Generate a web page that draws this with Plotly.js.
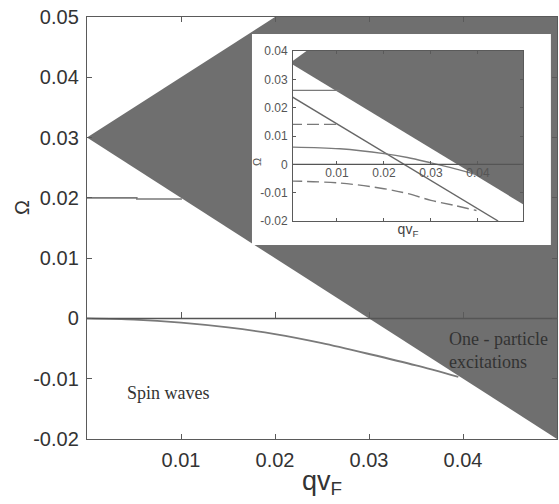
<!DOCTYPE html>
<html><head><meta charset="utf-8">
<script src="https://cdn.plot.ly/plotly-3.0.1.min.js"></script>
<style>html,body{margin:0;padding:0;background:#fff}</style>
</head><body><div id="chart" style="width:559px;height:504px"></div>
<script>
// ---- main panel data ----
const bandQ = [0, 0.05, 0.05, 0.02, 0];
const bandW = [0.03, -0.02, 0.05, 0.05, 0.03];
const levelQ = [0, 0.0053, 0.0053, 0.0101];
const levelW = [0.02, 0.02, 0.0198, 0.0198];
const zeroQ = [0, 0.05];
const zeroW = [0, 0];
const spinQ = [0, 0.005, 0.01, 0.015, 0.02, 0.025, 0.03, 0.035, 0.0395];
const spinW = [0, -0.0002, -0.0007, -0.0015, -0.0026, -0.0041, -0.0059, -0.0078, -0.0097];
const mainXTicks = [0.01, 0.02, 0.03, 0.04];
const mainXLabels = ['0.01', '0.02', '0.03', '0.04'];
const mainYTicks = [-0.02, -0.01, 0, 0.01, 0.02, 0.03, 0.04, 0.05];
const mainYLabels = ['-0.02', '-0.01', '0', '0.01', '0.02', '0.03', '0.04', '0.05'];
const labelSpin = 'Spin waves';
const labelOne = 'One - particle<br>excitations';
const yTitle = 'Ω';

// ---- inset data ----
const insBandQ = [0, 0.0035, 0.05, 0.05, 0];
const insBandW = [0.0358, 0.04, 0.04, -0.0145, 0.0358];
const insLevelQ = [0, 0.0106];
const insLevelW = [0.0261, 0.0261];
const insDashLevelQ = [0, 0.0106];
const insDashLevelW = [0.0141, 0.0141];
const insDiagQ = [0, 0.0443];
const insDiagW = [0.0243, -0.02];
const insSolidQ = [0, 0.0106, 0.02, 0.025, 0.03, 0.035, 0.0393];
const insSolidW = [0.0061, 0.0055, 0.0038, 0.0024, 0.0005, -0.0015, -0.0034];
const insDashQ = [0, 0.0106, 0.02, 0.025, 0.03, 0.035, 0.0397];
const insDashW = [-0.0059, -0.0066, -0.0086, -0.0103, -0.0127, -0.0145, -0.0163];
const insZeroQ = [0, 0.05];
const insZeroW = [0, 0];
const insXTicks = [0.01, 0.02, 0.03, 0.04];
const insXLabels = ['0.01', '0.02', '0.03', '0.04'];
const insYTicks = [-0.02, -0.01, 0, 0.01, 0.02, 0.03, 0.04];
const insYLabels = ['-0.02', '-0.01', '0', '0.01', '0.02', '0.03', '0.04'];

const dark = '#6f6f6f';
const lineGray = '#7a7a7a';
const axisGray = '#5a5a5a';
const sans = 'Liberation Sans, Arial, sans-serif';
const serif = 'Liberation Serif, Times New Roman, serif';

const mainYRange = [-0.02, 0.05];
const insYRange = [-0.02, 0.04];
const insYDomain = [0.5166, 0.9194];
const zeroPos = (0 - mainYRange[0]) / (mainYRange[1] - mainYRange[0]);
const insZeroPos = insYDomain[0] + (insYDomain[1] - insYDomain[0]) * (0 - insYRange[0]) / (insYRange[1] - insYRange[0]);

const traces = [
  {x: bandQ, y: bandW, xaxis: 'x', yaxis: 'y', mode: 'lines', fill: 'toself', fillcolor: dark, line: {width: 0, color: dark}, hoverinfo: 'skip'},
  {x: levelQ, y: levelW, xaxis: 'x', yaxis: 'y', mode: 'lines', line: {color: lineGray, width: 1.6}},
  {x: spinQ, y: spinW, xaxis: 'x', yaxis: 'y', mode: 'lines', line: {color: lineGray, width: 1.8, shape: 'spline', smoothing: 0.8}},
  {x: zeroQ, y: zeroW, xaxis: 'x4', yaxis: 'y', mode: 'lines', line: {color: '#555', width: 1.5}},
  // frame backdrop of the inset
  {x: [], y: [], xaxis: 'x2', yaxis: 'y2', mode: 'markers', hoverinfo: 'skip'},
  // inset
  {x: insBandQ, y: insBandW, xaxis: 'x3', yaxis: 'y3', mode: 'lines', fill: 'toself', fillcolor: dark, line: {width: 0, color: dark}, hoverinfo: 'skip'},
  {x: insLevelQ, y: insLevelW, xaxis: 'x3', yaxis: 'y3', mode: 'lines', line: {color: lineGray, width: 1.4}},
  {x: insDashLevelQ, y: insDashLevelW, xaxis: 'x3', yaxis: 'y3', mode: 'lines', line: {color: lineGray, width: 1.4, dash: '12px,5px'}},
  {x: insDiagQ, y: insDiagW, xaxis: 'x3', yaxis: 'y3', mode: 'lines', line: {color: '#666', width: 1.4}},
  {x: insSolidQ, y: insSolidW, xaxis: 'x3', yaxis: 'y3', mode: 'lines', line: {color: lineGray, width: 1.4, shape: 'spline'}},
  {x: insDashQ, y: insDashW, xaxis: 'x3', yaxis: 'y3', mode: 'lines', line: {color: lineGray, width: 1.4, dash: '12px,5px', shape: 'spline'}},
  {x: insZeroQ, y: insZeroW, xaxis: 'x5', yaxis: 'y3', mode: 'lines', line: {color: '#555', width: 1.4}}
];

const baseAxis = {showgrid: false, zeroline: false, showline: true, linecolor: axisGray, linewidth: 1.2,
  ticks: 'inside', tickcolor: axisGray, mirror: 'ticks'};

const layout = {
  width: 559, height: 504,
  margin: {l: 87, r: 2, t: 17, b: 65},
  paper_bgcolor: '#fff', plot_bgcolor: '#fff',
  showlegend: false,
  xaxis: Object.assign({}, baseAxis, {
    domain: [0, 1], range: [0, 0.05], anchor: 'y',
    tickmode: 'array', tickvals: mainXTicks, ticktext: mainXLabels, ticklen: 5,
    tickfont: {family: sans, size: 20, color: '#333'}, ticklabelstandoff: 3,
    title: {text: 'qv<sub>F</sub>', font: {family: sans, size: 27, color: '#333'}, standoff: 0}
  }),
  yaxis: Object.assign({}, baseAxis, {
    domain: [0, 1], range: mainYRange, anchor: 'x',
    tickmode: 'array', tickvals: mainYTicks, ticktext: mainYLabels, ticklen: 5,
    tickfont: {family: sans, size: 20, color: '#333'}, ticklabelstandoff: 3
  }),
  xaxis4: {overlaying: 'x', anchor: 'free', position: zeroPos, side: 'bottom', range: [0, 0.05],
    tickmode: 'array', tickvals: mainXTicks, ticks: 'inside', ticklen: 6, tickcolor: axisGray,
    showticklabels: false, showline: false, showgrid: false, zeroline: false},
  xaxis2: {domain: [0.351, 0.987], anchor: 'y2', range: [0, 1], showline: false,
    showticklabels: false, ticks: '', showgrid: false, zeroline: false, fixedrange: true},
  yaxis2: {domain: [0.4597, 0.9597], anchor: 'x2', range: [0, 1], showline: false,
    showticklabels: false, ticks: '', showgrid: false, zeroline: false, fixedrange: true},
  xaxis3: Object.assign({}, baseAxis, {
    domain: [0.4383, 0.9277], range: [0.00064, 0.0496], anchor: 'y3', linewidth: 1,
    tickmode: 'array', tickvals: insXTicks, ticklen: 3, showticklabels: false,
    title: {text: 'qv<sub>F</sub>', font: {family: sans, size: 14, color: '#444'}, standoff: 3}
  }),
  yaxis3: Object.assign({}, baseAxis, {
    domain: insYDomain, range: insYRange, anchor: 'x3', linewidth: 1,
    tickmode: 'array', tickvals: insYTicks, ticktext: insYLabels, ticklen: 3,
    tickfont: {family: sans, size: 12, color: '#555'}, ticklabelstandoff: 2
  }),
  xaxis5: {overlaying: 'x3', anchor: 'free', position: insZeroPos, side: 'bottom', range: [0.00064, 0.0496],
    tickmode: 'array', tickvals: insXTicks, ticktext: insXLabels, ticks: 'inside', ticklen: 3, tickcolor: axisGray,
    tickfont: {family: sans, size: 12, color: '#555'}, ticklabelstandoff: 0,
    showticklabels: true, showline: false, showgrid: false, zeroline: false},
  annotations: [
    {text: yTitle, x: -0.1383, y: 0.5498, xref: 'paper', yref: 'paper', xanchor: 'center', yanchor: 'middle',
     textangle: -90, showarrow: false, font: {family: sans, size: 20, color: '#333'}},
    {text: yTitle, x: 0.3617, y: 0.6564, xref: 'paper', yref: 'paper', xanchor: 'center', yanchor: 'middle',
     textangle: -90, showarrow: false, font: {family: sans, size: 11, color: '#555'}},
    {text: labelSpin, x: 0.0087, y: -0.0123, xref: 'x', yref: 'y', showarrow: false,
     font: {family: serif, size: 18, color: '#333'}},
    {text: labelOne, x: 0.0383, y: -0.0054, xref: 'x', yref: 'y', xanchor: 'left', align: 'left', showarrow: false,
     font: {family: serif, size: 18, color: '#333'}}
  ]
};

Plotly.newPlot('chart', traces, layout, {displayModeBar: false, staticPlot: true});
</script></body></html>
